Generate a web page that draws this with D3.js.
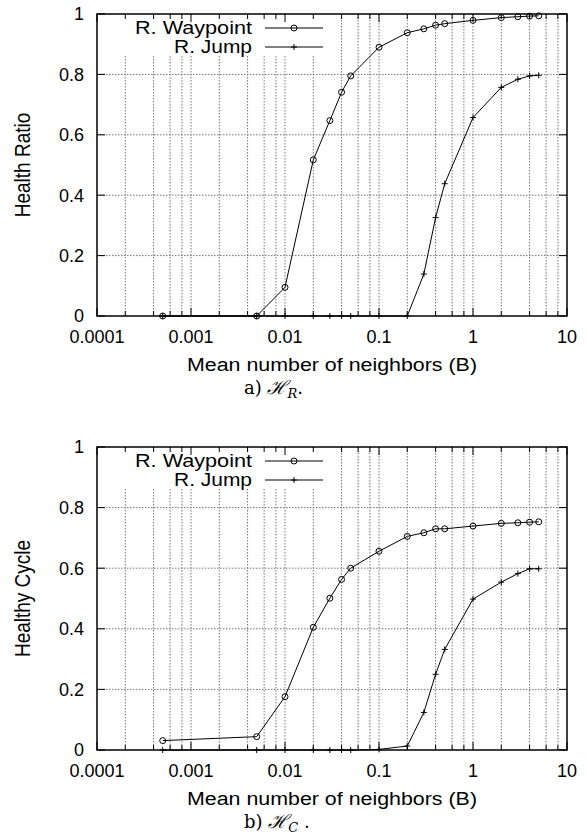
<!DOCTYPE html>
<meta charset="utf-8">
<html>
<head>
  <title>Health ratio and healthy cycle vs mean number of neighbors</title>
  <script src="https://d3js.org/d3.v7.min.js"></script>
  <style>
    body { margin: 0; background: #fff; }
    text { font-family: "Liberation Sans", Arial, Helvetica, sans-serif; fill: #000; }
    .caption { font-family: "DejaVu Serif", "Liberation Serif", serif; }
    .grid { stroke: #777; stroke-width: 1; stroke-dasharray: 1.5,1.5; }
  </style>
</head>
<body>
  <svg id="chart" width="587" height="835"></svg>
  <script>
    // mean number of neighbors (B), shared by both panels
    var xValues = [0.0005, 0.005, 0.01, 0.02, 0.03, 0.04, 0.05, 0.1, 0.2, 0.3, 0.4, 0.5, 1, 2, 3, 4, 5];

    // a) health ratio
    var ratioWaypoint = [0, 0, 0.095, 0.517, 0.647, 0.741, 0.795, 0.89, 0.938, 0.951, 0.963, 0.968, 0.979, 0.988, 0.991, 0.993, 0.994];
    var ratioJump = [0, 0, 0, 0, 0, 0, 0, 0, 0, 0.139, 0.326, 0.438, 0.657, 0.757, 0.784, 0.795, 0.797];

    // b) healthy cycle
    var cycleWaypoint = [0.031, 0.044, 0.176, 0.405, 0.501, 0.563, 0.600, 0.656, 0.705, 0.717, 0.730, 0.730, 0.739, 0.748, 0.750, 0.752, 0.753];
    var cycleJump = [0, 0, 0, 0, 0, 0, 0, 0.002, 0.013, 0.124, 0.25, 0.332, 0.498, 0.554, 0.582, 0.598, 0.598];

    var seriesNames = ["R. Waypoint", "R. Jump"];
    var xTicks = [0.0001, 0.001, 0.01, 0.1, 1, 10];
    var xTickText = ["0.0001", "0.001", "0.01", "0.1", "1", "10"];
    var yTicks = [0, 0.2, 0.4, 0.6, 0.8, 1];
    var yTickText = ["0", "0.2", "0.4", "0.6", "0.8", "1"];

    var svg = d3.select("#chart");
    svg.append("rect").attr("width", 587).attr("height", 835).attr("fill", "#fff");

    var x = d3.scaleLog().domain([0.0001, 10]).range([97, 567]);

    // grid positions: decades and 2,4,6,8 inside each decade
    var gridX = [];
    xTicks.slice(0, -1).forEach(function(d) {
      [1, 2, 4, 6, 8].forEach(function(m) { gridX.push(d * m); });
    });
    gridX.push(10);

    function plus(sel, cx, cy) {
      sel.append("path")
        .attr("d", "M" + (cx - 3) + "," + cy + "h6M" + cx + "," + (cy - 3) + "v6")
        .attr("stroke", "#000").attr("stroke-width", 1).attr("fill", "none");
    }
    function ring(sel, cx, cy) {
      sel.append("circle").attr("cx", cx).attr("cy", cy).attr("r", 3)
        .attr("stroke", "#000").attr("stroke-width", 1).attr("fill", "none");
    }

    function drawPanel(top, bottom, yLabel, waypoint, jump, capLetter, capSub) {
      var y = d3.scaleLinear().domain([0, 1]).range([bottom, top]);
      var g = svg.append("g");
      var left = x.range()[0], right = x.range()[1];

      // grid
      g.selectAll(".gx").data(gridX.filter(function(d) { return d > 0.0001 && d < 10; }))
        .enter().append("line").attr("class", "grid")
        .attr("x1", function(d) { return x(d); }).attr("x2", function(d) { return x(d); })
        .attr("y1", top).attr("y2", bottom);
      g.selectAll(".gy").data(yTicks.filter(function(d) { return d > 0 && d < 1; }))
        .enter().append("line").attr("class", "grid")
        .attr("x1", left).attr("x2", right)
        .attr("y1", function(d) { return y(d); }).attr("y2", function(d) { return y(d); });

      // legend background hides the grid
      g.append("rect").attr("x", left + 1).attr("y", top + 1)
        .attr("width", 228).attr("height", 41).attr("fill", "#fff");

      // frame and ticks
      g.append("rect").attr("x", left).attr("y", top)
        .attr("width", right - left).attr("height", bottom - top)
        .attr("fill", "none").attr("stroke", "#000").attr("stroke-width", 1.5);

      gridX.forEach(function(d) {
        var major = xTicks.indexOf(d) >= 0;
        var len = major ? 8 : 5;
        g.append("line").attr("x1", x(d)).attr("x2", x(d)).attr("y1", bottom).attr("y2", bottom - len)
          .attr("stroke", "#000");
        g.append("line").attr("x1", x(d)).attr("x2", x(d)).attr("y1", top).attr("y2", top + len)
          .attr("stroke", "#000");
      });
      yTicks.forEach(function(d) {
        g.append("line").attr("x1", left).attr("x2", left + 8).attr("y1", y(d)).attr("y2", y(d)).attr("stroke", "#000");
        g.append("line").attr("x1", right).attr("x2", right - 8).attr("y1", y(d)).attr("y2", y(d)).attr("stroke", "#000");
      });

      // tick labels
      g.selectAll(".xt").data(xTicks).enter().append("text")
        .attr("x", function(d) { return x(d); }).attr("y", bottom + 27)
        .attr("text-anchor", "middle").attr("font-size", 18)
        .text(function(d, i) { return xTickText[i]; });
      g.selectAll(".yt").data(yTicks).enter().append("text")
        .attr("x", 84).attr("y", function(d) { return y(d); }).attr("dy", "0.35em")
        .attr("text-anchor", "end").attr("font-size", 18)
        .text(function(d, i) { return yTickText[i]; });

      // axis labels
      g.append("text").attr("x", (left + right) / 2).attr("y", bottom + 55)
        .attr("text-anchor", "middle").attr("font-size", 18)
        .attr("textLength", 290).attr("lengthAdjust", "spacingAndGlyphs")
        .text("Mean number of neighbors (B)");
      g.append("text")
        .attr("transform", "translate(30," + (top + bottom) / 2 + ") scale(1.2,1) rotate(-90)")
        .attr("text-anchor", "middle").attr("font-size", 19)
        .text(yLabel);

      // series
      var line = d3.line().x(function(d) { return x(d[0]); }).y(function(d) { return y(d[1]); });
      var wp = xValues.map(function(v, i) { return [v, waypoint[i]]; });
      var jp = xValues.map(function(v, i) { return [v, jump[i]]; });
      g.append("path").datum(wp).attr("d", line).attr("fill", "none").attr("stroke", "#000").attr("stroke-width", 1);
      g.append("path").datum(jp).attr("d", line).attr("fill", "none").attr("stroke", "#000").attr("stroke-width", 1);
      wp.forEach(function(d) { ring(g, x(d[0]), y(d[1])); });
      jp.forEach(function(d) { plus(g, x(d[0]), y(d[1])); });

      // legend
      var rows = [top + 14, top + 33];
      var widths = [117, 78];
      seriesNames.forEach(function(name, i) {
        g.append("text").attr("x", 252).attr("y", rows[i] + 6)
          .attr("text-anchor", "end").attr("font-size", 17.5)
          .attr("textLength", widths[i]).attr("lengthAdjust", "spacingAndGlyphs")
          .text(name);
        g.append("line").attr("x1", 265).attr("x2", 323).attr("y1", rows[i]).attr("y2", rows[i])
          .attr("stroke", "#000").attr("stroke-width", 1);
        if (i === 0) ring(g, 294, rows[i]); else plus(g, 294, rows[i]);
      });

      // caption
      var cap = g.append("text").attr("class", "caption")
        .attr("x", 244).attr("y", bottom + 78).attr("font-size", 18);
      cap.append("tspan").text(capLetter + ") ");
      cap.append("tspan").attr("font-style", "italic").attr("font-size", 19).text("\u210B");
      cap.append("tspan").attr("font-style", "italic").attr("font-size", 13).attr("dy", 4).text(capSub);
      cap.append("tspan").attr("dy", -4).text(capLetter === "a" ? "." : " .");
    }

    drawPanel(14, 316, "Health Ratio", ratioWaypoint, ratioJump, "a", "R");
    drawPanel(447, 750, "Healthy Cycle", cycleWaypoint, cycleJump, "b", "C");
  </script>
</body>
</html>
